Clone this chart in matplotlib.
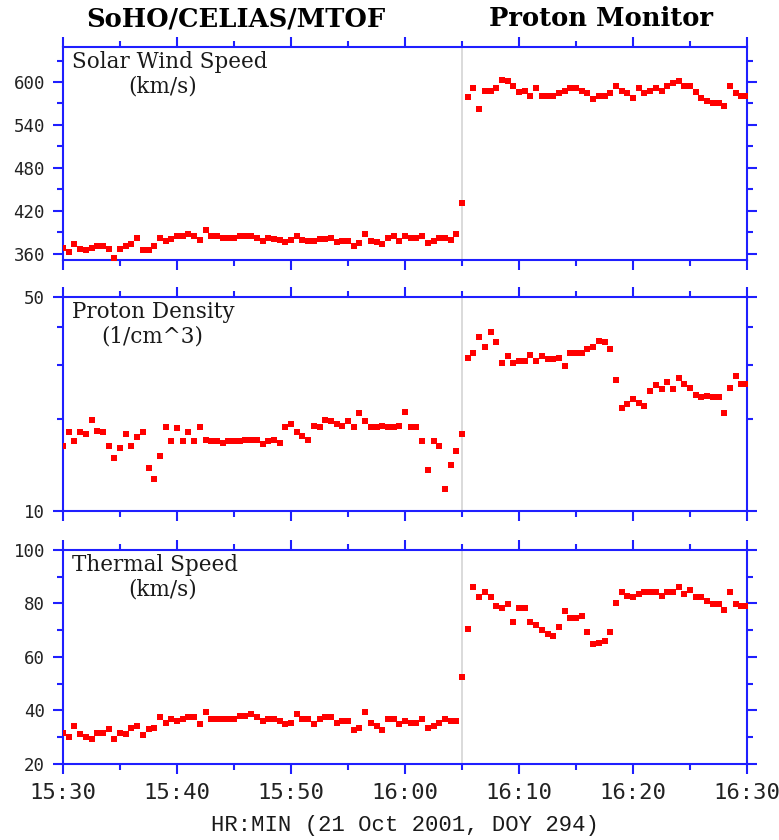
import matplotlib.pyplot as plt
from matplotlib.ticker import NullFormatter, FixedFormatter

# minutes after 15:30, one sample every 30 s
minutes = [i * 0.5 for i in range(121)]

speed = [
    368, 362, 373, 366, 365, 368, 371, 370, 367, 354,
    367, 371, 374, 382, 365, 365, 370, 382, 378, 381,
    385, 385, 388, 385, 379, 393, 385, 385, 382, 382,
    382, 385, 385, 385, 382, 378, 382, 380, 379, 376,
    379, 385, 379, 378, 378, 380, 380, 382, 376, 378,
    378, 371, 375, 388, 378, 376, 373, 382, 385, 378,
    385, 382, 382, 385, 375, 378, 382, 382, 379, 387,
    431, 579, 591, 562, 588, 588, 591, 603, 601, 594,
    586, 588, 581, 591, 581, 581, 581, 584, 588, 591,
    591, 588, 584, 576, 581, 581, 584, 594, 588, 584,
    578, 591, 584, 588, 591, 588, 594, 598, 601, 594,
    594, 586, 578, 574, 571, 571, 566, 594, 584, 581,
    581,
]

density = [
    16.3, 18.1, 16.9, 18.1, 17.8, 19.8, 18.3, 18.1, 16.3, 14.9,
    16.1, 17.8, 16.3, 17.4, 18.1, 13.8, 12.7, 15.1, 18.8, 16.9,
    18.6, 16.9, 18.1, 16.9, 18.8, 17.1, 16.9, 16.9, 16.7, 16.9,
    16.9, 16.9, 17.1, 17.1, 17.1, 16.5, 16.9, 17.1, 16.7, 18.8,
    19.3, 18.1, 17.6, 17.1, 19.0, 18.8, 19.8, 19.6, 19.3, 19.0,
    19.6, 18.8, 20.9, 19.6, 18.8, 18.8, 19.0, 18.8, 18.8, 19.0,
    21.1, 18.8, 18.8, 16.9, 13.6, 16.9, 16.3, 11.8, 14.1, 15.7,
    17.8, 31.6, 32.9, 37.0, 34.2, 38.4, 35.6, 30.4, 32.0, 30.4,
    30.9, 30.9, 32.4, 30.9, 32.0, 31.3, 31.3, 31.6, 29.7, 32.9,
    32.9, 32.9, 33.8, 34.2, 36.0, 35.6, 33.8, 26.7, 21.7, 22.3,
    23.2, 22.5, 22.0, 24.7, 25.7, 25.0, 26.4, 25.0, 27.1, 26.0,
    25.3, 24.0, 23.5, 23.8, 23.5, 23.5, 20.9, 25.3, 27.5, 26.0,
    26.0,
]

thermal = [
    31.7, 30.2, 34.3, 31.1, 30.2, 29.5, 31.7, 31.7, 33.0, 29.5,
    31.7, 31.1, 33.6, 34.3, 30.8, 33.0, 33.6, 37.4, 35.5, 36.8,
    36.2, 36.8, 37.4, 37.4, 34.8, 39.4, 36.8, 36.8, 36.8, 36.8,
    36.8, 38.1, 38.1, 38.7, 37.4, 36.2, 36.8, 36.8, 36.2, 34.8,
    35.5, 38.7, 36.8, 36.8, 34.8, 36.8, 37.4, 37.4, 35.5, 36.2,
    36.2, 32.7, 33.6, 39.4, 35.5, 34.3, 32.7, 36.8, 36.8, 34.8,
    36.2, 35.5, 35.5, 36.8, 33.6, 34.3, 35.5, 36.8, 36.2, 36.2,
    52.4, 70.6, 86.3, 82.3, 84.3, 82.3, 79.1, 78.4, 79.7, 73.2,
    78.4, 78.4, 73.2, 72.0, 70.1, 68.7, 68.0, 71.2, 77.1, 74.6,
    74.6, 75.2, 69.3, 64.7, 65.4, 66.1, 69.3, 80.3, 84.3, 82.9,
    82.3, 83.6, 84.3, 84.3, 84.3, 82.9, 84.3, 84.3, 86.3, 83.6,
    84.9, 82.3, 82.3, 81.1, 79.7, 79.7, 77.7, 84.3, 79.7, 79.1,
    79.1,
]

time_ticks = [0, 10, 20, 30, 40, 50, 60]
time_labels = ['15:30', '15:40', '15:50', '16:00', '16:10', '16:20', '16:30']
boundary = 35  # 16:05, switch from MTOF to Proton Monitor

blue = '#1f1fff'
fig = plt.figure(figsize=(7.79, 8.4), dpi=100)

left, width = 0.081, 0.878
rects = [(left, 0.6905, width, 0.2536),
         (left, 0.3917, width, 0.2548),
         (left, 0.0905, width, 0.2548)]
axes = [fig.add_axes(r) for r in rects]

series = [speed, density, thermal]
labels = [('Solar Wind Speed', '(km/s)', 0.145),
          ('Proton Density', '(1/cm^3)', 0.131),
          ('Thermal Speed', '(km/s)', 0.145)]

for i, ax in enumerate(axes):
    ax.axvline(boundary, color='#d4d4d4', lw=1.2, zorder=1)
    ax.plot(minutes, series[i], ls='none', marker='s', ms=3.8, mew=0,
            color='#ff0000', zorder=3)
    ax.set_xlim(0, 60)
    ax.set_xticks(time_ticks)
    ax.set_xticks([5, 15, 25, 35, 45, 55], minor=True)
    for s in ax.spines.values():
        s.set_color(blue)
        s.set_linewidth(1.5)
    ax.tick_params(which='both', direction='out', color=blue, width=1.5,
                   top=True, right=True, labelcolor='#222222')
    ax.tick_params(which='major', length=7)
    ax.tick_params(which='minor', length=4)
    ax.tick_params(axis='y', pad=6)
    title, unit, ux = labels[i]
    ax.text(0.013, 0.928, title, transform=ax.transAxes, family='DejaVu Serif',
            fontsize=15.5, va='center', ha='left', color='#1a1a1a')
    ax.text(ux, 0.815, unit, transform=ax.transAxes, family='DejaVu Serif',
            fontsize=15.5, va='center', ha='center', color='#1a1a1a')
    if i < 2:
        ax.set_xticklabels([])
    else:
        ax.set_xticklabels(time_labels, family='DejaVu Sans Mono', fontsize=16)
        ax.tick_params(axis='x', pad=7)

# panel 1: linear speed
axes[0].set_ylim(351, 649)
axes[0].set_yticks([360, 420, 480, 540, 600])
axes[0].set_yticks([390, 450, 510, 570, 630], minor=True)

# panel 2: log density
axes[1].set_yscale('log')
axes[1].set_ylim(10, 50)
axes[1].set_yticks([10, 50])
axes[1].set_yticks([20, 30, 40], minor=True)
axes[1].yaxis.set_major_formatter(FixedFormatter(['10', '50']))
axes[1].yaxis.set_minor_formatter(NullFormatter())

# panel 3: linear thermal speed
axes[2].set_ylim(20, 100)
axes[2].set_yticks([20, 40, 60, 80, 100])
axes[2].set_yticks([30, 50, 70, 90], minor=True)

for ax in axes:
    for lab in ax.get_yticklabels():
        lab.set_family('DejaVu Sans Mono')
        lab.set_fontsize(12.5)

axes[2].set_xlabel('HR:MIN (21 Oct 2001, DOY 294)', family='Liberation Mono',
                   fontsize=16, color='#1a1a1a', labelpad=8)

fig.text(236 / 779, 1 - 19 / 840, 'SoHO/CELIAS/MTOF', family='DejaVu Serif',
         fontweight='bold', fontsize=18.5, ha='center', va='center')
fig.text(601 / 779, 1 - 19 / 840, 'Proton Monitor', family='DejaVu Serif',
         fontweight='bold', fontsize=18.5, ha='center', va='center')

plt.savefig('out.png', dpi=100)
